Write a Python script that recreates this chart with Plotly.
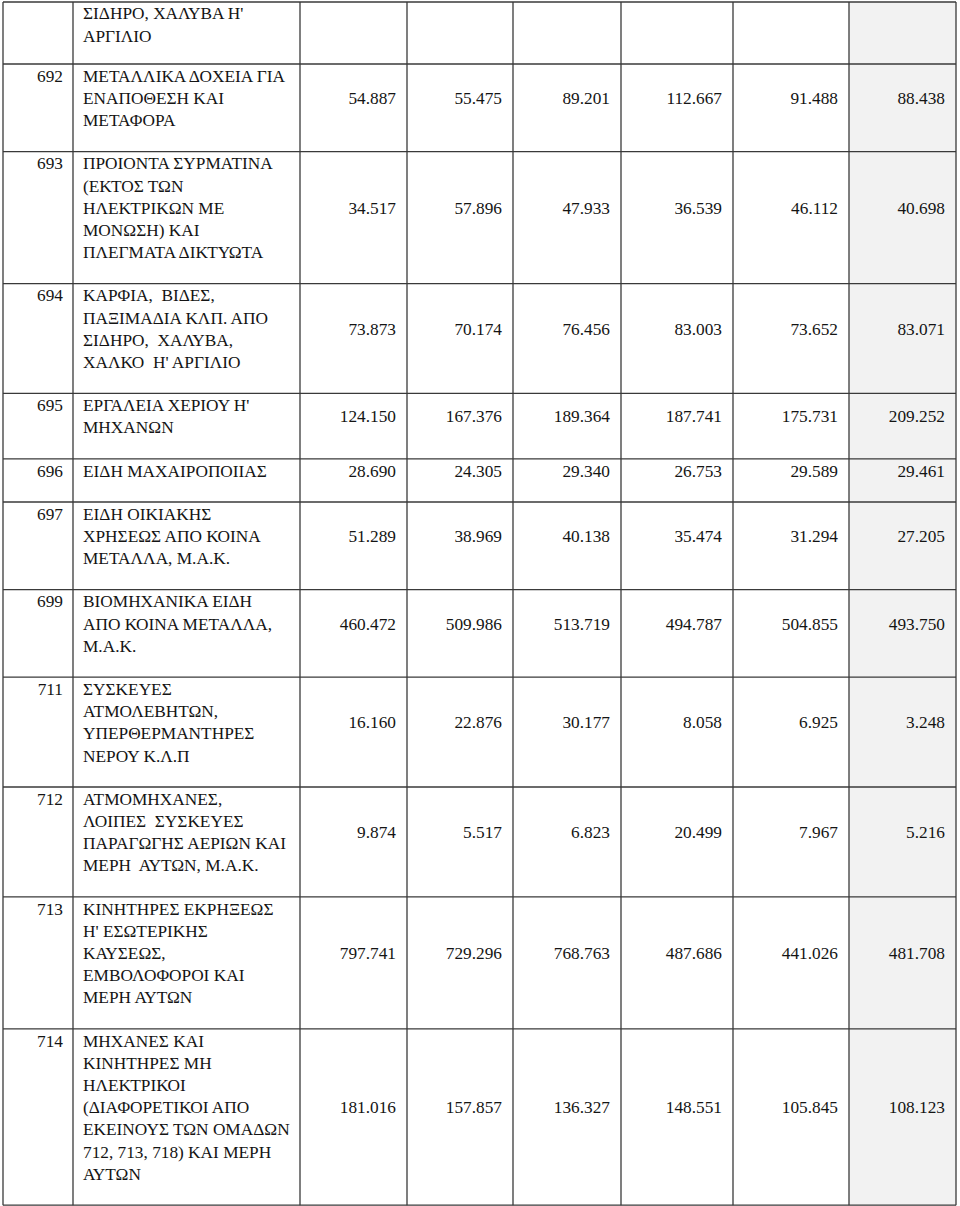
import plotly.graph_objects as go

# ---------------- data ----------------
codes = ["", "692", "693", "694", "695", "696", "697", "699", "711", "712", "713", "714"]

descriptions = [
    ["ΣΙΔΗΡΟ, ΧΑΛΥΒΑ Η'", "ΑΡΓΙΛΙΟ"],
    ["ΜΕΤΑΛΛΙΚΑ ΔΟΧΕΙΑ ΓΙΑ", "ΕΝΑΠΟΘΕΣΗ ΚΑΙ", "ΜΕΤΑΦΟΡΑ"],
    ["ΠΡΟΙΟΝΤΑ ΣΥΡΜΑΤΙΝΑ", "(ΕΚΤΟΣ ΤΩΝ", "ΗΛΕΚΤΡΙΚΩΝ ΜΕ", "ΜΟΝΩΣΗ) ΚΑΙ", "ΠΛΕΓΜΑΤΑ ΔΙΚΤΥΩΤΑ"],
    ["ΚΑΡΦΙΑ,  ΒΙΔΕΣ,", "ΠΑΞΙΜΑΔΙΑ ΚΛΠ. ΑΠΟ", "ΣΙΔΗΡΟ,  ΧΑΛΥΒΑ,", "ΧΑΛΚΟ  Η' ΑΡΓΙΛΙΟ"],
    ["ΕΡΓΑΛΕΙΑ ΧΕΡΙΟΥ Η'", "ΜΗΧΑΝΩΝ"],
    ["ΕΙΔΗ ΜΑΧΑΙΡΟΠΟΙΙΑΣ"],
    ["ΕΙΔΗ ΟΙΚΙΑΚΗΣ", "ΧΡΗΣΕΩΣ ΑΠΟ ΚΟΙΝΑ", "ΜΕΤΑΛΛΑ, Μ.Α.Κ."],
    ["ΒΙΟΜΗΧΑΝΙΚΑ ΕΙΔΗ", "ΑΠΟ ΚΟΙΝΑ ΜΕΤΑΛΛΑ,", "Μ.Α.Κ."],
    ["ΣΥΣΚΕΥΕΣ", "ΑΤΜΟΛΕΒΗΤΩΝ,", "ΥΠΕΡΘΕΡΜΑΝΤΗΡΕΣ", "ΝΕΡΟΥ Κ.Λ.Π"],
    ["ΑΤΜΟΜΗΧΑΝΕΣ,", "ΛΟΙΠΕΣ  ΣΥΣΚΕΥΕΣ", "ΠΑΡΑΓΩΓΗΣ ΑΕΡΙΩΝ ΚΑΙ", "ΜΕΡΗ  ΑΥΤΩΝ, Μ.Α.Κ."],
    ["ΚΙΝΗΤΗΡΕΣ ΕΚΡΗΞΕΩΣ", "Η' ΕΣΩΤΕΡΙΚΗΣ", "ΚΑΥΣΕΩΣ,", "ΕΜΒΟΛΟΦΟΡΟΙ ΚΑΙ", "ΜΕΡΗ ΑΥΤΩΝ"],
    ["ΜΗΧΑΝΕΣ ΚΑΙ", "ΚΙΝΗΤΗΡΕΣ ΜΗ", "ΗΛΕΚΤΡΙΚΟΙ", "(ΔΙΑΦΟΡΕΤΙΚΟΙ ΑΠΟ",
     "ΕΚΕΙΝΟΥΣ ΤΩΝ ΟΜΑΔΩΝ", "712, 713, 718) ΚΑΙ ΜΕΡΗ", "ΑΥΤΩΝ"],
]

# six value columns (thousands, Greek dot separator when shown)
col1 = [None, 54887, 34517, 73873, 124150, 28690, 51289, 460472, 16160, 9874, 797741, 181016]
col2 = [None, 55475, 57896, 70174, 167376, 24305, 38969, 509986, 22876, 5517, 729296, 157857]
col3 = [None, 89201, 47933, 76456, 189364, 29340, 40138, 513719, 30177, 6823, 768763, 136327]
col4 = [None, 112667, 36539, 83003, 187741, 26753, 35474, 494787, 8058, 20499, 487686, 148551]
col5 = [None, 91488, 46112, 73652, 175731, 29589, 31294, 504855, 6925, 7967, 441026, 105845]
col6 = [None, 88438, 40698, 83071, 209252, 29461, 27205, 493750, 3248, 5216, 481708, 108123]
value_cols = [col1, col2, col3, col4, col5, col6]

# ---------------- layout constants ----------------
W, H = 960, 1206
col_edges = [3, 73, 300, 407, 513, 621, 733, 849, 956]
LINE_H = 22.2
ROW_PAD = 21.0
TOP = 2
FIRST_ROW_BOTTOM = 64
TEXT_OFF = 13.5
FIRST_TEXT_OFF = 13.0
FONT = "'Liberation Serif', 'Times New Roman', Times, serif"
FS = 17.3
TXT_COL = "#141414"
GRID_COL = "#3a3a3a"
SHADE = "#f2f2f2"


def fmt(v):
    return "" if v is None else f"{v:,}".replace(",", ".")


# row boundaries derived from number of text lines
row_tops = [TOP]
row_bottoms = [FIRST_ROW_BOTTOM]
for d in descriptions[1:]:
    t = row_bottoms[-1]
    row_tops.append(t)
    row_bottoms.append(t + len(d) * LINE_H + ROW_PAD)

fig = go.Figure()

desc_x, desc_y, desc_t = [], [], []
code_x, code_y, code_t = [], [], []
val_x, val_y, val_t = [], [], []
for i, d in enumerate(descriptions):
    top = row_tops[i]
    first = top + (FIRST_TEXT_OFF if i == 0 else TEXT_OFF)
    for k, line in enumerate(d):
        desc_x.append(col_edges[1] + 10)
        desc_y.append(first + k * LINE_H)
        desc_t.append(line)
    if codes[i]:
        code_x.append(col_edges[1] - 10)
        code_y.append(first)
        code_t.append(codes[i])
    mid = first + (len(d) - 1) * LINE_H / 2
    for c, col in enumerate(value_cols):
        if col[i] is not None:
            val_x.append(col_edges[c + 3] - 11)
            val_y.append(mid)
            val_t.append(fmt(col[i]))

tfont = dict(family=FONT, size=FS, color=TXT_COL)
fig.add_trace(go.Scatter(x=desc_x, y=desc_y, text=desc_t, mode="text",
                         textposition="middle right", textfont=tfont,
                         hoverinfo="skip", showlegend=False))
fig.add_trace(go.Scatter(x=code_x, y=code_y, text=code_t, mode="text",
                         textposition="middle left", textfont=tfont,
                         hoverinfo="skip", showlegend=False))
fig.add_trace(go.Scatter(x=val_x, y=val_y, text=val_t, mode="text",
                         textposition="middle left", textfont=tfont,
                         hoverinfo="skip", showlegend=False))

shapes = []
shapes.append(dict(type="rect", x0=col_edges[-2], x1=col_edges[-1],
                   y0=TOP, y1=row_bottoms[-1], fillcolor=SHADE,
                   line=dict(width=0), layer="below"))
for y in [TOP] + row_bottoms:
    shapes.append(dict(type="line", x0=col_edges[0], x1=col_edges[-1], y0=y, y1=y,
                       line=dict(color=GRID_COL, width=1.3)))
for x in col_edges:
    shapes.append(dict(type="line", x0=x, x1=x, y0=TOP, y1=row_bottoms[-1],
                       line=dict(color=GRID_COL, width=1.3)))

fig.update_layout(
    width=W, height=H,
    margin=dict(l=0, r=0, t=0, b=0),
    paper_bgcolor="white", plot_bgcolor="white",
    font=dict(family=FONT),
    shapes=shapes,
    xaxis=dict(range=[0, W], visible=False, fixedrange=True),
    yaxis=dict(range=[H, 0], visible=False, fixedrange=True),
)

fig.write_html(
    "out.html",
    config={"displayModeBar": False},
    post_script="document.body.style.margin='0px';document.body.style.overflow='hidden';",
)
